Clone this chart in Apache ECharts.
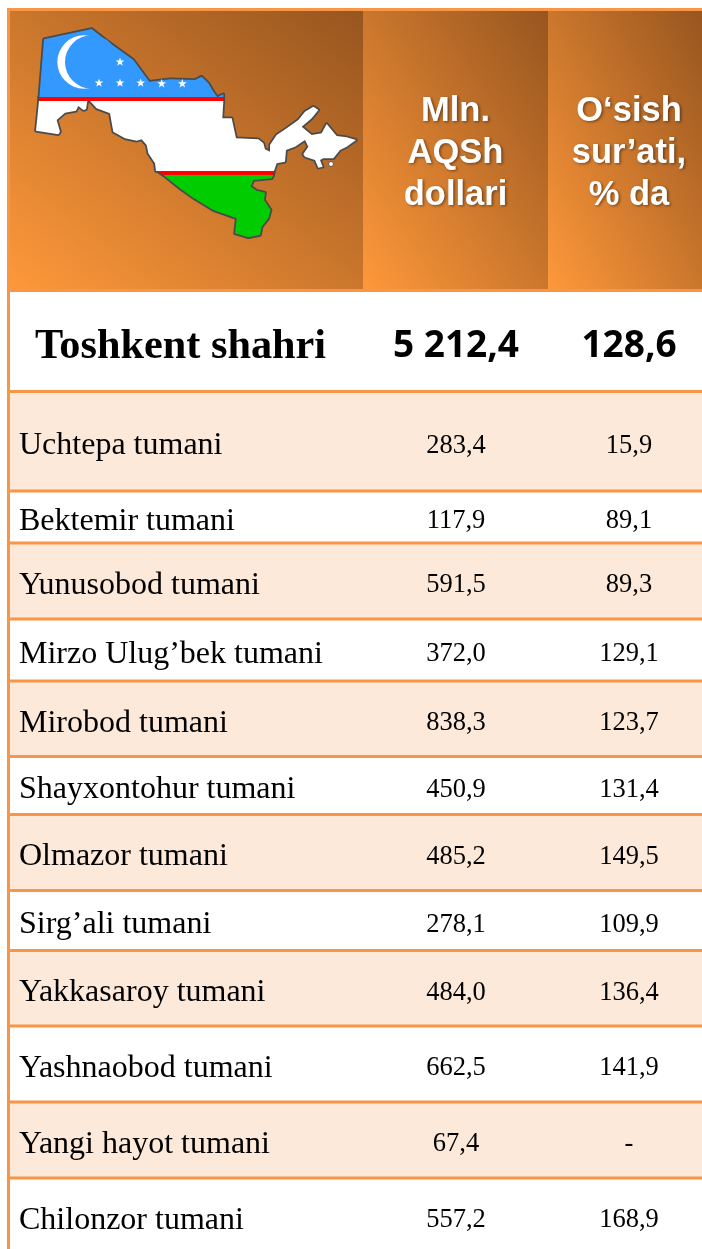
<!DOCTYPE html>
<html>
<head>
<meta charset="utf-8">
<title>Toshkent shahri</title>
<style>
html, body { margin: 0; padding: 0; background: #fff; }
#main { width: 702px; height: 1249px; }
</style>
<script src="https://cdn.jsdelivr.net/npm/echarts@6/dist/echarts.min.js"></script>
</head>
<body>
<div id="main"></div>
<script>
// table content
var headerValue = ['Mln.', 'AQSh', 'dollari'];
var headerGrowth = ['O‘sish', 'sur’ati,', '% da'];
var totalName = 'Toshkent shahri';
var totalValue = '5 212,4';
var totalGrowth = '128,6';
var districts = ['Uchtepa tumani', 'Bektemir tumani', 'Yunusobod tumani', 'Mirzo Ulug’bek tumani', 'Mirobod tumani', 'Shayxontohur tumani', 'Olmazor tumani', 'Sirg’ali tumani', 'Yakkasaroy tumani', 'Yashnaobod tumani', 'Yangi hayot tumani', 'Chilonzor tumani'];
var values = ['283,4', '117,9', '591,5', '372,0', '838,3', '450,9', '485,2', '278,1', '484,0', '662,5', '67,4', '557,2'];
var growth = ['15,9', '89,1', '89,3', '129,1', '123,7', '131,4', '149,5', '109,9', '136,4', '141,9', '-', '168,9'];

// layout
var rowLines = [391.5, 491, 543, 619, 681, 756.5, 814.5, 890.5, 950.5, 1026, 1102, 1178, 1254];
var colValue = 456, colGrowth = 629;
var borderColor = '#f79646';
var serif = '"Liberation Serif", serif';

var els = [];

// corner to corner gradient, bottom left bright, top right dark
function headerCell(x, y, w, h) {
    var cx = x + w / 2, cy = y + h / 2;
    var k = w * h / (w * w + h * h);
    var grad = new echarts.graphic.LinearGradient(cx - h * k, cy + w * k, cx + h * k, cy - w * k, [
        { offset: 0, color: '#fe983a' },
        { offset: 1, color: '#97551f' }
    ], true);
    els.push({ type: 'rect', shape: { x: x, y: y, width: w, height: h }, style: { fill: grad } });
}

// background cells
els.push({ type: 'rect', shape: { x: 7, y: 8, width: 695, height: 284 }, style: { fill: borderColor } });
headerCell(10, 11, 353, 278);
headerCell(363, 11, 185, 278);
headerCell(548, 11, 154, 278);

// map of the country (3x zoom units)
var bands = [
    { fill: '#3399ff', pts: [[118, 292], [132, 118], [275, 87], [320, 122], [400, 180], [448, 245], [510, 238], [585, 240], [605, 230], [625, 250], [640, 275], [652, 292], [660, 287], [670, 283], [670, 292]] },
    { fill: '#ff0000', pts: [[117, 292], [670, 292], [670, 303], [117, 303]] },
    { fill: '#ffffff', pts: [[117, 303], [670, 303], [667, 355], [695, 355], [708, 415], [775, 418], [790, 430], [795, 448], [810, 455], [810, 435], [830, 405], [860, 385], [895, 360], [915, 335], [940, 320], [955, 330], [935, 355], [905, 380], [935, 405], [965, 400], [980, 372], [995, 390], [1010, 408], [1040, 412], [1068, 420], [1040, 440], [1020, 450], [1000, 475], [970, 475], [960, 480], [968, 500], [955, 503], [945, 480], [915, 470], [910, 462], [925, 440], [915, 420], [885, 440], [858, 450], [855, 485], [830, 490], [822, 513], [468, 513], [465, 490], [445, 460], [440, 435], [425, 418], [410, 422], [375, 415], [340, 395], [335, 368], [330, 340], [290, 325], [270, 303], [262, 303], [258, 328], [250, 330], [235, 318], [228, 332], [195, 338], [170, 360], [180, 395], [175, 403], [108, 392]] },
    { fill: '#ff0000', pts: [[472, 513], [822, 513], [820, 525], [490, 525]] },
    { fill: '#00cc00', pts: [[490, 525], [820, 525], [815, 535], [760, 540], [752, 560], [770, 572], [795, 578], [792, 600], [812, 630], [805, 655], [785, 680], [780, 705], [745, 712], [705, 700], [710, 655], [640, 630], [575, 590], [540, 565]] }
];
function mapPts(pts) {
    return pts.map(function (p) { return [p[0] / 3, p[1] / 3]; });
}
// dark outline first, fills on top so only the outer edge stays
bands.forEach(function (b) {
    els.push({ type: 'polygon', shape: { points: mapPts(b.pts) }, style: { fill: '#4a4a4a', stroke: '#4a4a4a', lineWidth: 3.5, lineJoin: 'round' } });
});
els.push({ type: 'circle', shape: { cx: 331, cy: 164, r: 2.5 }, style: { fill: '#fff', stroke: '#555', lineWidth: 1 } });
bands.forEach(function (b) {
    els.push({ type: 'polygon', shape: { points: mapPts(b.pts) }, style: { fill: b.fill } });
});

// crescent
els.push({ type: 'circle', shape: { cx: 252 / 3, cy: 186 / 3, r: 80 / 3 }, style: { fill: '#fff' } });
els.push({ type: 'circle', shape: { cx: 275 / 3, cy: 186 / 3, r: 80 / 3 }, style: { fill: '#3399ff' } });

function starPts(cx, cy, r) {
    var out = [];
    for (var i = 0; i < 10; i++) {
        var a = -Math.PI / 2 + i * Math.PI / 5;
        var rr = i % 2 ? r * 0.4 : r;
        out.push([cx + rr * Math.cos(a), cy + rr * Math.sin(a)]);
    }
    return out;
}
[[360, 186], [297, 249], [360, 249], [422, 249], [485, 251], [547, 251]].forEach(function (s) {
    els.push({ type: 'polygon', shape: { points: starPts(s[0] / 3, s[1] / 3, 4.6) }, style: { fill: '#fff' } });
});

// header text
function headerCol(lines, x) {
    lines.forEach(function (t, i) {
        els.push({
            type: 'text', x: x, y: 111 + i * 42,
            style: {
                text: t, fill: '#fff', align: 'center', verticalAlign: 'middle',
                font: 'bold 34.5px "Liberation Sans", sans-serif',
                textShadowColor: 'rgba(0,0,0,0.45)', textShadowBlur: 3, textShadowOffsetX: 1.5, textShadowOffsetY: 1.5
            }
        });
    });
}
headerCol(headerValue, colValue - 0.5);
headerCol(headerGrowth, colGrowth);

// total row
els.push({ type: 'text', x: 35, y: 347, style: { text: totalName, fill: '#000', verticalAlign: 'middle', font: 'bold 42.3px ' + serif } });
els.push({ type: 'text', x: colValue, y: 346, style: { text: totalValue, fill: '#000', align: 'center', verticalAlign: 'middle', font: 'bold 37px "Open Sans", sans-serif' } });
els.push({ type: 'text', x: colGrowth, y: 346, style: { text: totalGrowth, fill: '#000', align: 'center', verticalAlign: 'middle', font: 'bold 37px "Open Sans", sans-serif' } });

// district rows
districts.forEach(function (name, i) {
    var top = rowLines[i], bottom = rowLines[i + 1];
    var mid = (top + bottom) / 2 + 4.5;
    if (i % 2 === 0) {
        els.push({ type: 'rect', shape: { x: 10, y: top, width: 692, height: bottom - top }, style: { fill: '#fde9d9' } });
    }
    els.push({ type: 'text', x: 19, y: mid, style: { text: name, fill: '#000', verticalAlign: 'middle', font: '32px ' + serif } });
    els.push({ type: 'text', x: colValue, y: mid, style: { text: values[i], fill: '#000', align: 'center', verticalAlign: 'middle', font: '26.5px ' + serif } });
    els.push({ type: 'text', x: colGrowth, y: mid, style: { text: growth[i], fill: '#000', align: 'center', verticalAlign: 'middle', font: '26.5px ' + serif } });
});

// grid lines
rowLines.slice(0, 12).forEach(function (y) {
    els.push({ type: 'rect', shape: { x: 7, y: y - 1.5, width: 695, height: 3 }, style: { fill: borderColor } });
});
els.push({ type: 'rect', shape: { x: 7, y: 292, width: 3, height: 957 }, style: { fill: borderColor } });

var chart = echarts.init(document.getElementById('main'));
chart.setOption({
    backgroundColor: '#fff',
    animation: false,
    graphic: { elements: els }
});
</script>
</body>
</html>
